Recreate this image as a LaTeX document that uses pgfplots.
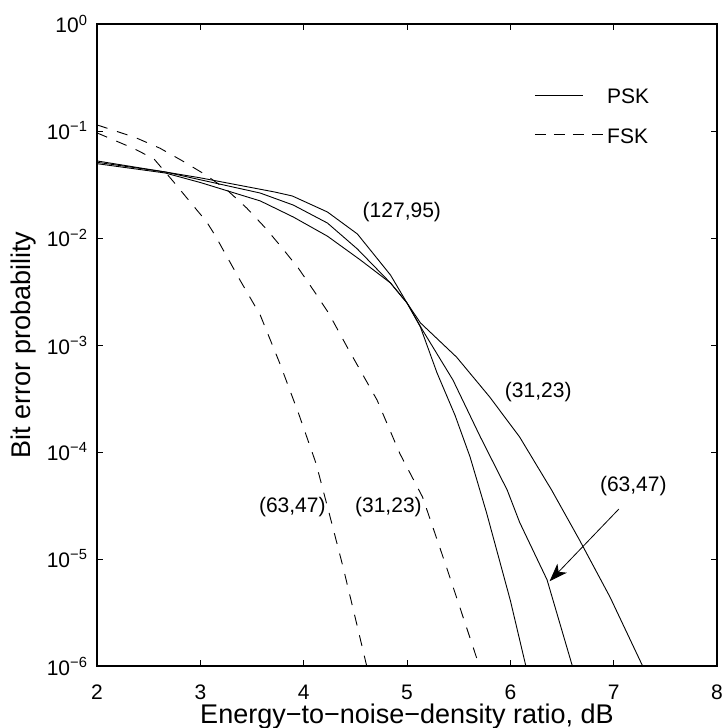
\documentclass[border=0pt]{standalone}
\usepackage{fontspec}
\setmainfont{Liberation Sans}
\usepackage{pgfplots}
\pgfplotsset{compat=1.18}
\usetikzlibrary{arrows.meta}

\begin{document}
\begin{tikzpicture}
\begin{axis}[
  scale only axis,
  width=310pt, height=321pt,
  xmin=2, xmax=8, ymin=1e-6, ymax=1,
  ymode=log, log basis y=10,
  xtick={2,...,8},
  ytick={1e-6,1e-5,1e-4,1e-3,1e-2,1e-1,1},
  yticklabels={10\textsuperscript{−6},10\textsuperscript{−5},10\textsuperscript{−4},10\textsuperscript{−3},10\textsuperscript{−2},10\textsuperscript{−1},10\textsuperscript{0}},
  tick align=inside,
  major tick length=3pt, minor tick length=1.6pt,
  axis line style={line width=0.65pt},
  every tick/.style={black, line width=0.4pt},
  /pgf/number format/assume math mode=true,
  tick label style={font=\fontsize{10.5}{12}\selectfont},
  xticklabel style={yshift=-6pt},
  yticklabel style={xshift=-1pt},
  label style={font=\fontsize{13.5}{15}\selectfont},
  xlabel={Energy−to−noise−density ratio, dB},
  ylabel={Bit error probability},
  xlabel style={at={(axis description cs:0.5,-0.079)},anchor=center,inner sep=1pt},
  ylabel style={at={(axis description cs:-0.119,0.5)},anchor=center},
  legend style={draw=none, fill=none, at={(0.695,0.8536)}, anchor=west,
    font=\fontsize{10.5}{12}\selectfont, /tikz/row sep=7pt},
  legend cell align=left,
  every axis plot/.append style={black, line width=0.45pt},
]
% PSK (127,95)
\addplot[solid,
  legend image code/.code={\draw[black, line width=0.45pt] (0pt,1.5pt) -- (24pt,1.5pt); \path (34pt,0pt);}] coordinates {
 (2.00,0.0525) (2.66,0.0414) (3.00,0.0365) (3.72,0.0269) (3.89,0.0247) (4.23,0.0175)
 (4.52,0.0109) (4.84,0.00451) (5.00,0.00247) (5.13,0.00147) (5.29,5.5e-4)
 (5.465,2.2e-4) (5.61,9.0e-5) (5.77,2.7e-5) (6.00,4.1e-6) (6.15,1.0e-6)
};
\addlegendentry{PSK}
% FSK (63,47)
\addplot[dash pattern=on 5.5pt off 5pt,
  legend image code/.code={\draw[black, line width=0.45pt, dash pattern=on 5.5pt off 4pt] (0pt,1.5pt) -- (34pt,1.5pt); \path (0pt,0pt);}] coordinates {
 (2.00,0.096) (2.35,0.069) (2.55,0.055) (2.74,0.0336) (2.90,0.0218) (3.06,0.0142)
 (3.14,0.0107) (3.38,0.0041) (3.58,0.0019) (3.77,6.7e-4) (3.95,2.3e-4) (4.12,7.8e-5)
 (4.25,2.6e-5) (4.38,8.5e-6) (4.50,2.8e-6) (4.61,1.0e-6)
};
\addlegendentry{FSK}
% PSK (63,47)
\addplot[solid, forget plot] coordinates {
 (2.00,0.051) (2.66,0.0414) (3.00,0.035) (3.58,0.0263) (3.90,0.0203) (4.23,0.0138)
 (4.52,0.00789) (4.84,0.0038) (5.00,0.00247) (5.15,0.00138) (5.445,4.7e-4)
 (5.71,1.38e-4) (5.97,4.4e-5) (6.09,2.2e-5) (6.355,6.4e-6) (6.60,1.0e-6)
};
% PSK (31,23)
\addplot[solid, forget plot] coordinates {
 (2.00,0.0495) (2.66,0.0405) (3.00,0.033) (3.58,0.0222) (3.90,0.0157) (4.23,0.0104)
 (4.55,0.00622) (4.84,0.0038) (5.00,0.00247) (5.13,1.61e-3) (5.48,7.7e-4)
 (5.80,3.27e-4) (6.09,1.38e-4) (6.40,4.4e-5) (6.67,1.5e-5) (6.965,4.4e-6) (7.28,1.0e-6)
};
% FSK (31,23)
\addplot[dash pattern=on 5.5pt off 5pt, forget plot] coordinates {
 (2.00,0.114) (2.37,0.087) (2.61,0.069) (2.82,0.053) (3.05,0.039) (3.26,0.028)
 (3.45,0.019) (3.63,0.0124) (3.79,0.0081) (3.95,0.0052) (4.09,0.0033) (4.24,0.0020)
 (4.42,9.6e-4) (4.71,3.06e-4) (4.93,9.7e-5) (5.15,3.8e-5) (5.38,8.5e-6) (5.70,1.0e-6)
};
\node[font=\fontsize{10.5}{12}\selectfont] at (axis cs:4.95,0.0175) {(127,95)};
\node[font=\fontsize{10.5}{12}\selectfont] at (axis cs:6.27,3.64e-4) {(31,23)};
\node[font=\fontsize{10.5}{12}\selectfont] at (axis cs:7.19,4.81e-5) {(63,47)};
\node[font=\fontsize{10.5}{12}\selectfont] at (axis cs:3.89,3.06e-5) {(63,47)};
\node[font=\fontsize{10.5}{12}\selectfont] at (axis cs:4.82,3.06e-5) {(31,23)};
\draw[-{Stealth[length=9pt,width=6.5pt,inset=2.5pt]}, line width=0.4pt]
  (axis cs:7.05,2.93e-5) -- (axis cs:6.38,6.2e-6);
\end{axis}
\pgfresetboundingbox
\path ([shift={(-48.5pt,-31pt)}]current axis.south west) rectangle ([shift={(3.5pt,12pt)}]current axis.north east);
\end{tikzpicture}
\end{document}
